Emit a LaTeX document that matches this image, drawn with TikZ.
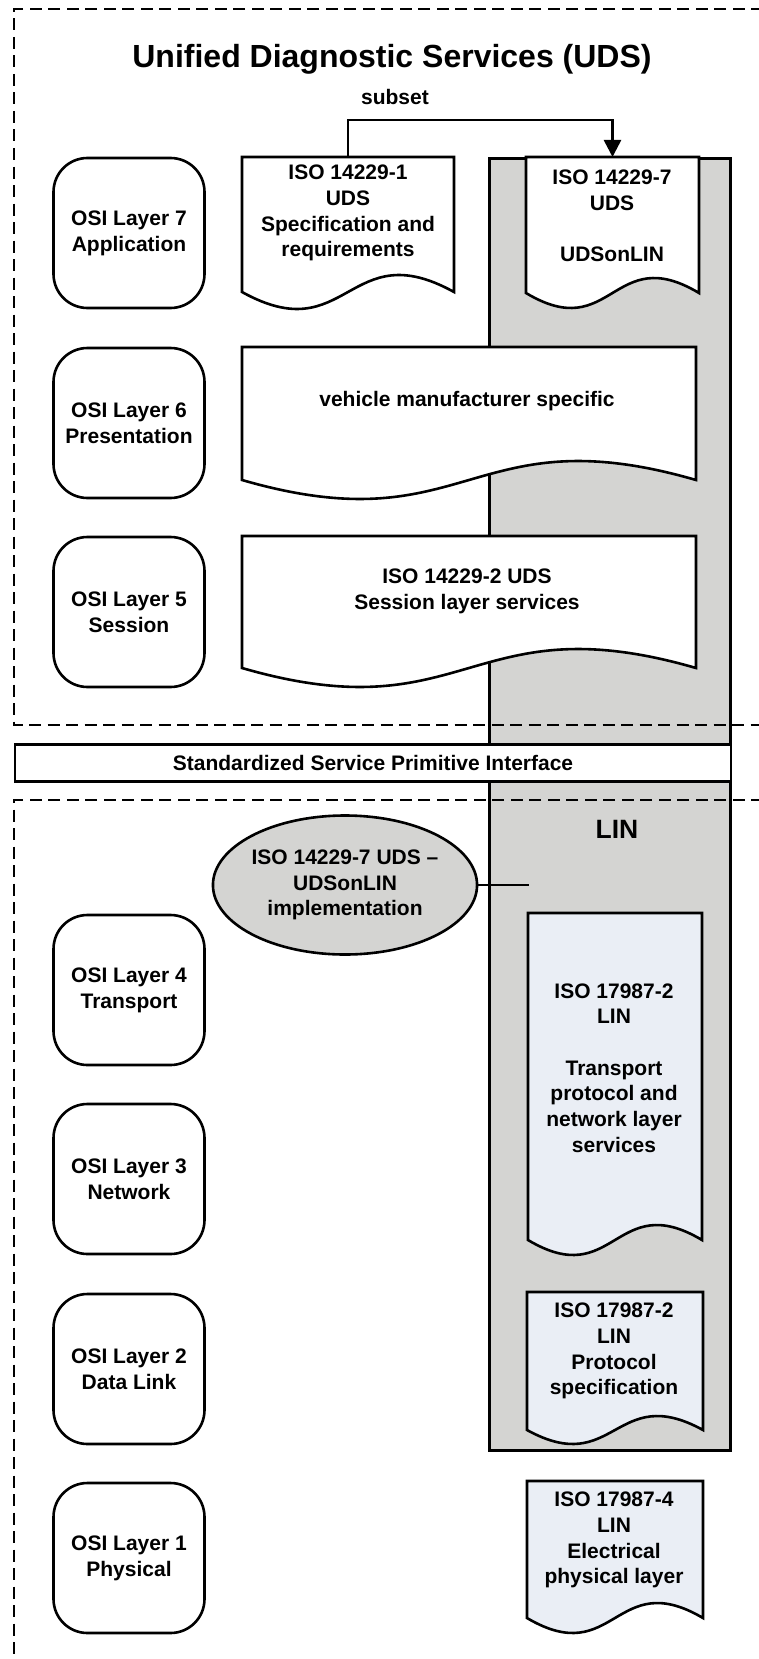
\documentclass[tikz,border=0pt]{standalone}
\usepackage{fontspec}
\setmainfont{Liberation Sans}
\usetikzlibrary{shapes.geometric,arrows.meta}
\definecolor{colgray}{RGB}{212,212,210}
\definecolor{docblue}{RGB}{234,238,245}
\tikzset{
  lw/.style={line width=2.6pt},
  docline/.style={lw, draw=black, line join=miter},
  docframe/.style={draw=none, inner sep=0pt, outer sep=0pt, rectangle},
  txt/.style={align=center, inner sep=0pt, font={\fontsize{21}{25.7}\selectfont\bfseries}},
  layer/.style={draw, lw, rounded corners=34pt, minimum width=151pt, minimum height=150pt, inner sep=0pt, align=center, font={\fontsize{21}{25.7}\selectfont\bfseries}},
  dashbox/.style={line width=1.8pt, dash pattern=on 12pt off 6.5pt},
  conn/.style={line width=2.6pt},
}
\newcommand{\DocNode}[7]{%
  \filldraw[docline, fill=#7] (#2,#3) -- (#4,#3) -- (#4,#5) .. controls ({(#2+#4)/2},{#5-3.46*#6}) and ({(#2+#4)/2},{#5+3.46*#6}) .. (#2,#5) -- cycle;
  \node[docframe, minimum width={#4-#2}, minimum height={#5-#3}] (#1) at ({(#2+#4)/2},{(#3+#5)/2}) {};
}
\begin{document}
\begin{tikzpicture}[x=1pt, y=-1pt]
\useasboundingbox (0,0) rectangle (759,1659);
% gray LIN column
\node[draw, lw, fill=colgray, minimum width=241pt, minimum height=1292pt, inner sep=0pt] (lincol) at (610,804.5) {};
% dashed areas
\draw[dashbox] (800,9) -- (14,9) -- (14,725) -- (800,725);
\draw[dashbox] (800,800) -- (14,800) -- (14,1700);
% title
\node[font={\fontsize{32}{38}\selectfont\bfseries}] (title) at (392,59) {Unified Diagnostic Services (UDS)};
\node[txt] (subset) at (395,97) {subset};
% interface
\node[draw, lw, fill=white, minimum width=716pt, minimum height=37pt, inner sep=0pt, font={\fontsize{21}{25.7}\selectfont\bfseries}] (spi) at (373,763) {Standardized Service Primitive Interface};
% documents
\DocNode{d1}{242}{157}{454}{292}{17}{white}
\node[txt] (d1t) at (348,213) {ISO 14229-1\\UDS\\Specification and\\requirements};
\DocNode{d7}{526}{157}{699}{293}{15}{white}
\node[txt] (d7t) at (612,216) {ISO 14229-7\\UDS\\[25.7pt]UDSonLIN};
\DocNode{d6}{242}{347}{696}{480}{19}{white}
\node[txt] (d6t) at (467,401) {vehicle manufacturer specific};
\DocNode{d5}{242}{536}{696}{668}{19}{white}
\node[txt] (d5t) at (467,591) {ISO 14229-2 UDS\\Session layer services};
\DocNode{dT}{528}{913}{702}{1240}{15}{docblue}
\node[txt] (dTt) at (614,1068) {ISO 17987-2\\LIN\\[25.7pt]Transport\\protocol and\\network layer\\services};
\DocNode{dP}{527}{1292}{703}{1430}{14}{docblue}
\node[txt] (dPt) at (614,1351) {ISO 17987-2\\LIN\\Protocol\\specification};
\DocNode{dE}{527}{1481}{703}{1618}{15}{docblue}
\node[txt] (dEt) at (614,1540) {ISO 17987-4\\LIN\\Electrical\\physical layer};
% subset arrow
\draw[conn, -{Triangle[length=17pt,width=17pt]}] (d1.north) -- ++(0,-37) -| (d7.north);
% LIN label
\node[font={\fontsize{26.5}{30}\selectfont\bfseries}] (linlabel) at (617,829) {LIN};
% OSI layers
\node[layer] (L7) at (129,233) {OSI Layer 7\\Application};
\node[layer] (L6) at (129,423) {OSI Layer 6\\Presentation};
\node[layer] (L5) at (129,612) {OSI Layer 5\\Session};
\node[layer] (L4) at (129,990) {OSI Layer 4\\Transport};
\node[layer] (L3) at (129,1179) {OSI Layer 3\\Network};
\node[layer] (L2) at (129,1369) {OSI Layer 2\\Data Link};
\node[layer] (L1) at (129,1558) {OSI Layer 1\\Physical};
% implementation ellipse
\node[ellipse, draw, lw, fill=colgray, minimum width=248pt, minimum height=139pt, inner sep=0pt, align=center, font={\fontsize{21}{25.7}\selectfont\bfseries}] (impl) at (345,885) {ISO 14229-7 UDS --\\UDSonLIN\\implementation};
\coordinate (implend) at (529,885);
\draw[conn] (impl.east) -- (implend);
\end{tikzpicture}
\end{document}
